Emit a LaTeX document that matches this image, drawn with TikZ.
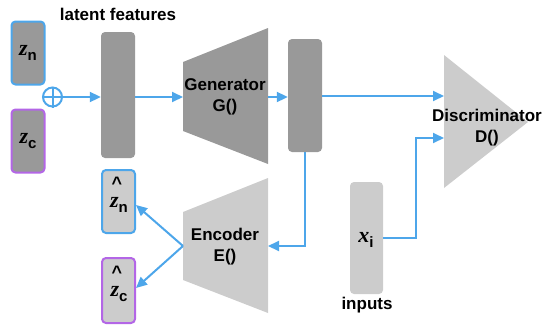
\documentclass[tikz,border=0pt]{standalone}
\usepackage{fontspec}
\setmainfont{Liberation Sans}
\newfontfamily\serifit{Liberation Serif}
\usetikzlibrary{arrows.meta}
\definecolor{dgray}{HTML}{999999}
\definecolor{lgray}{HTML}{CCCCCC}
\definecolor{lblue}{HTML}{4DA6EA}
\definecolor{lpurp}{HTML}{B366E6}
\newcommand{\myvar}[2]{{\fontsize{22}{22}\selectfont\serifit\bfseries\itshape #1}\raisebox{-5pt}{\fontsize{15}{15}\selectfont\bfseries #2}}
\begin{document}
\begin{tikzpicture}[x=1pt,y=-1pt,
  lbl/.style={font=\fontsize{17}{21}\selectfont\bfseries, align=center, inner sep=0pt},
  hatlbl/.style={font=\fontsize{18}{18}\selectfont\bfseries, inner sep=0pt},
  varlbl/.style={inner sep=0pt},
  dbox/.style={fill=dgray, rounded corners=4pt, inner sep=0pt},
  lbox/.style={fill=lgray, rounded corners=4pt, inner sep=0pt},
  conn/.style={draw=lblue, line width=2pt},
  arr/.style={conn, -{Triangle[length=11pt,width=10pt]}}]
\useasboundingbox (0,0) rectangle (542,327);
% latent inputs
\node[dbox, draw=lblue, line width=2pt, minimum width=33pt, minimum height=63pt] (zn) at (28,53) {\myvar{z}{n}};
\node[dbox, draw=lpurp, line width=2pt, minimum width=33pt, minimum height=63pt] (zc) at (28,141) {\myvar{z}{c}};
\node[circle, draw=lblue, line width=2pt, minimum size=19pt, inner sep=0pt] (plus) at (52.5,97) {};
\draw[lblue, line width=2pt] (plus.north) -- (plus.south) (plus.west) -- (plus.east);
\node[dbox, minimum width=34pt, minimum height=126pt] (lat) at (118,95) {};
\node[lbl] (latlbl) at (118,14) {latent features};
% generator
\fill[dgray] (183,62) -- (268,28) -- (268,164) -- (183,131) -- cycle;
\node[lbl] (gen) at (225,97) {Generator\\G()};
\coordinate (genL) at (183,97);
\coordinate (genR) at (268,97);
\node[dbox, minimum width=34pt, minimum height=113pt] (gout) at (305,95.5) {};
% discriminator
\fill[lgray] (444,55) -- (528,122) -- (444,188) -- cycle;
\node[lbl] (disc) at (487,128) {Discriminator\\D()};
\coordinate (dIn1) at (444,96);
\coordinate (dIn2) at (444,138);
% inputs
\node[lbox, minimum width=33pt, minimum height=112pt] (xi) at (366.5,238) {};
\node[varlbl] (xilbl) at (366,240) {\myvar{x}{i}};
\node[lbl] (inlbl) at (367,305) {inputs};
% encoder
\fill[lgray] (183,212) -- (268,178) -- (268,313) -- (183,280) -- cycle;
\node[lbl] (enc) at (225,247) {Encoder\\E()};
\coordinate (encL) at (183,246);
\coordinate (encR) at (268,246);
% reconstructed latents
\node[lbox, draw=lblue, line width=2pt, minimum width=33pt, minimum height=63pt] (znh) at (118.5,201.5) {};
\node[hatlbl] (znhat) at (117,183) {\textasciicircum};
\node[varlbl] (znlbl) at (119,205) {\myvar{z}{n}};
\node[lbox, draw=lpurp, line width=2pt, minimum width=33pt, minimum height=65pt] (zch) at (118.5,290.5) {};
\node[hatlbl] (zchat) at (117,272) {\textasciicircum};
\node[varlbl] (zclbl) at (119,294) {\myvar{z}{c}};
% connectors
\draw[arr] (plus.east) -- (lat.west |- plus.east);
\draw[arr] (lat.east |- genL) -- (genL);
\draw[arr] (genR) -- (gout.west |- genR);
\draw[arr] (gout.east |- dIn1) -- (dIn1);
\draw[arr] (xi.east) -- (416,238) |- (dIn2);
\draw[arr] (gout.south) |- (encR);
\draw[arr] (encL) -- (znh.east |- 0,205);
\draw[arr] (encL) -- (zch.east |- 0,288);
\end{tikzpicture}
\end{document}
